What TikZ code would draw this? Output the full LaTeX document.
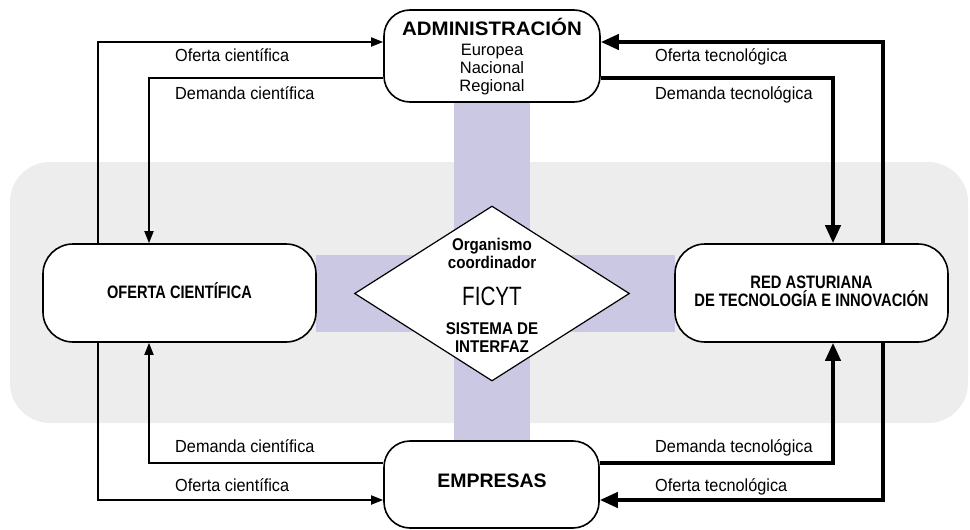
\documentclass[tikz,border=0pt]{standalone}
\usepackage{fontspec}
\setmainfont{Liberation Sans}
\newfontfamily\fLbl{Liberation Sans}[FakeStretch=0.93]
\newfontfamily\fLab{Liberation Sans}[FakeStretch=0.82]
\newfontfamily\fBox{Liberation Sans}[FakeStretch=0.81]
\newfontfamily\fDia{Liberation Sans}[FakeStretch=0.89]
\newfontfamily\fFic{Liberation Sans}[FakeStretch=0.78]
\newfontfamily\fWide{Liberation Sans}[FakeStretch=1.05]
\usetikzlibrary{arrows.meta,shapes.geometric}
\definecolor{bggray}{HTML}{EDEDED}
\definecolor{lav}{HTML}{CBC8E3}
\begin{document}
\begin{tikzpicture}[x=1pt,y=-1pt,
  box/.style={draw=black,line width=1.6pt,fill=white,rounded corners=26pt,inner sep=0pt},
  thinflow/.style={line width=1.8pt,-{Triangle[length=12pt,width=9pt]}},
  thickflow/.style={line width=4pt,-{Triangle[length=18pt,width=15pt]}},
  lab/.style={anchor=base west,inner sep=0pt,font=\fLbl\fontsize{17.5}{20}\selectfont},
  boxtxt/.style={anchor=base,inner sep=0pt,font=\fBox\bfseries\fontsize{18}{20}\selectfont},
  diatxt/.style={anchor=base,inner sep=0pt,font=\fDia\bfseries\fontsize{17}{20}\selectfont},
  admtxt/.style={anchor=base,inner sep=0pt,font=\fontsize{16.5}{18}\selectfont},
  bigtxt/.style={anchor=base,inner sep=0pt,font=\fWide\bfseries\fontsize{19.5}{22}\selectfont}
]
\useasboundingbox (0,0) rectangle (970,530);
% background band
\fill[bggray,rounded corners=40pt] (10,162) rectangle (968,423);
% lavender cross
\fill[lav] (454,102) rectangle (530,441);
\fill[lav] (316,255) rectangle (675,332);

% nodes
\node[box,minimum width=216pt,minimum height=92pt] (admin) at (492,56) {};
\node[box,minimum width=215pt,minimum height=87pt] (emp) at (491.5,484.5) {};
\node[box,rounded corners=30pt,minimum width=273pt,minimum height=98pt] (left) at (179.5,293) {};
\node[box,rounded corners=30pt,minimum width=273pt,minimum height=98pt] (right) at (811.5,293) {};
\node[diamond,draw=black,line width=1.2pt,fill=white,minimum width=275pt,minimum height=175pt,inner sep=0pt] (dia) at (492,293.5) {};

% texts in nodes
\node[bigtxt] (tadm) at (492,35) {ADMINISTRACIÓN};
\node[admtxt] (t1) at (492,55) {Europea};
\node[admtxt] (t2) at (492,73) {Nacional};
\node[admtxt] (t3) at (492,91) {Regional};
\node[bigtxt,font=\bfseries\fontsize{19.5}{22}\selectfont] (temp) at (492,487) {EMPRESAS};
\node[boxtxt] (tleft) at (179.5,298) {OFERTA CIENTÍFICA};
\node[boxtxt,font=\fLab\bfseries\fontsize{18}{20}\selectfont] (tr1) at (811.5,288) {RED ASTURIANA};
\node[boxtxt,font=\fLab\bfseries\fontsize{18}{20}\selectfont] (tr2) at (811.5,306) {DE TECNOLOGÍA E INNOVACIÓN};
\node[diatxt] (d1) at (492,250) {Organismo};
\node[diatxt] (d2) at (492,268) {coordinador};
\node[anchor=base,inner sep=0pt,font=\fFic\fontsize{26.5}{28}\selectfont] (d3) at (492,305) {FICYT};
\node[diatxt] (d4) at (492,334) {SISTEMA DE};
\node[diatxt] (d5) at (492,352) {INTERFAZ};

% helper coordinates
\coordinate (xl1) at (98,0);
\coordinate (xl2) at (149,0);
\coordinate (xr1) at (833,0);
\coordinate (xr2) at (883,0);
\coordinate (yt1) at (0,42);
\coordinate (yt2) at (0,78);
\coordinate (yb1) at (0,463);
\coordinate (yb2) at (0,500);

% left (scientific) flows
\draw[thinflow] (left.north -| xl1) |- (admin.west |- yt1);
\draw[thinflow] (admin.west |- yt2) -| (left.north -| xl2);
\draw[thinflow] (emp.west |- yb1) -| (left.south -| xl2);
\draw[thinflow] (left.south -| xl1) |- (emp.west |- yb2);
% right (technological) flows
\draw[thickflow] (right.north -| xr2) |- (admin.east |- yt1);
\draw[thickflow] (admin.east |- yt2) -| (right.north -| xr1);
\draw[thickflow] (emp.east |- yb1) -| (right.south -| xr1);
\draw[thickflow] (right.south -| xr2) |- (emp.east |- yb2);

% flow labels
\node[lab] (l1) at (175,61) {Oferta científica};
\node[lab] (l2) at (175,99) {Demanda científica};
\node[lab] (l3) at (655,61) {Oferta tecnológica};
\node[lab] (l4) at (655,99) {Demanda tecnológica};
\node[lab] (l5) at (175,452) {Demanda científica};
\node[lab] (l6) at (175,491) {Oferta científica};
\node[lab] (l7) at (655,452) {Demanda tecnológica};
\node[lab] (l8) at (655,491) {Oferta tecnológica};
\end{tikzpicture}
\end{document}
